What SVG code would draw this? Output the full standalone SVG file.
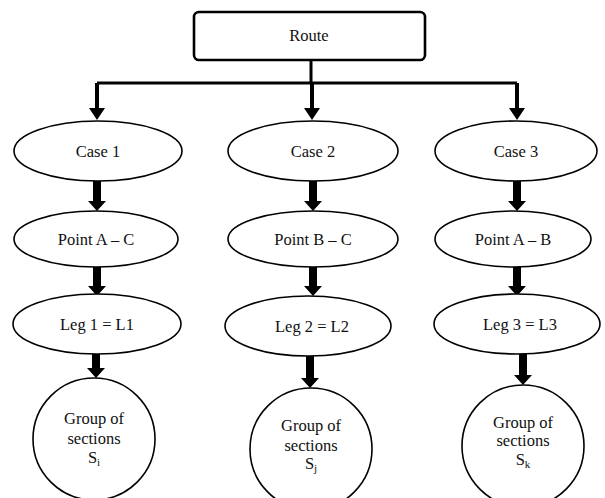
<svg xmlns="http://www.w3.org/2000/svg" width="605" height="498" viewBox="0 0 605 498" font-family="'Liberation Serif', 'Times New Roman', 'DejaVu Serif', serif">
  <style>
    .shape { fill: #ffffff; stroke: #000000; stroke-width: 1.6; }
    .root { fill: #ffffff; stroke: #000000; stroke-width: 2.6; }
    .bus { fill: none; stroke: #000000; stroke-width: 3; }
    .arrow { fill: #000000; stroke: none; }
    .label { font-family: 'Liberation Serif', 'Times New Roman', 'DejaVu Serif', serif; font-size: 16.5px; fill: #111111; text-anchor: middle; }
    .sub { font-size: 11px; }
  </style>
  <rect width="605" height="498" fill="#ffffff"/>

  <!-- connectors -->
  <g id="connectors">
    <path class="bus" d="M311 60 V83 M97 83 H517"/>
    <!-- bus drops to the three cases -->
    <path class="arrow" d="M95 83 H99 V108 H105 L97 120 L89 108 H95 Z"/>
    <path class="arrow" d="M310 83 H314 V108 H320 L312 120 L304 108 H310 Z"/>
    <path class="arrow" d="M515 83 H519 V108 H525 L517 120 L509 108 H515 Z"/>
    <!-- case to point -->
    <path class="arrow" d="M93 181 H101 V201 H106 L97 211 L88 201 H93 Z"/>
    <path class="arrow" d="M309 181 H317 V201 H322 L313 211 L304 201 H309 Z"/>
    <path class="arrow" d="M513 181 H521 V201 H526 L517 211 L508 201 H513 Z"/>
    <!-- point to leg -->
    <path class="arrow" d="M93 267 H101 V286 H106 L97 296 L88 286 H93 Z"/>
    <path class="arrow" d="M309 267 H317 V286 H322 L313 296 L304 286 H309 Z"/>
    <path class="arrow" d="M513 267 H521 V286 H526 L517 296 L508 286 H513 Z"/>
    <!-- leg to group of sections -->
    <path class="arrow" d="M92 354 H100 V368 H105 L96 378 L87 368 H92 Z"/>
    <path class="arrow" d="M306 356 H314 V378 H319 L310 388 L301 378 H306 Z"/>
    <path class="arrow" d="M519 354 H527 V375 H532 L523 385 L514 375 H519 Z"/>
  </g>

  <g id="route">
    <rect class="root" x="194" y="12" width="231" height="48" rx="5"/>
    <text class="label" x="309" y="41">Route</text>
  </g>

  <g id="case1">
    <ellipse class="shape" cx="98" cy="151" rx="84" ry="30"/>
    <text class="label" x="98" y="157">Case 1</text>
  </g>
  <g id="case2">
    <ellipse class="shape" cx="313" cy="151" rx="85" ry="30"/>
    <text class="label" x="313" y="157">Case 2</text>
  </g>
  <g id="case3">
    <ellipse class="shape" cx="516" cy="151" rx="81" ry="30"/>
    <text class="label" x="516" y="157">Case 3</text>
  </g>

  <g id="point-ac">
    <ellipse class="shape" cx="96" cy="239" rx="82" ry="28"/>
    <text class="label" x="96" y="245">Point A – C</text>
  </g>
  <g id="point-bc">
    <ellipse class="shape" cx="313" cy="239" rx="85" ry="28"/>
    <text class="label" x="313" y="245">Point B – C</text>
  </g>
  <g id="point-ab">
    <ellipse class="shape" cx="513" cy="239" rx="78" ry="28"/>
    <text class="label" x="513" y="245">Point A – B</text>
  </g>

  <g id="leg1">
    <ellipse class="shape" cx="97" cy="324" rx="84" ry="30"/>
    <text class="label" x="97" y="330">Leg 1 = L1</text>
  </g>
  <g id="leg2">
    <ellipse class="shape" cx="308" cy="326" rx="83" ry="30"/>
    <text class="label" x="312" y="332">Leg 2 = L2</text>
  </g>
  <g id="leg3">
    <ellipse class="shape" cx="517" cy="324" rx="83" ry="30"/>
    <text class="label" x="520" y="330">Leg 3 = L3</text>
  </g>

  <g id="sections-i">
    <circle class="shape" cx="94" cy="439" r="61"/>
    <text class="label" x="94" y="424">Group of</text>
    <text class="label" x="94" y="444">sections</text>
    <text class="label" x="94" y="463">S<tspan class="sub" dy="3">i</tspan></text>
  </g>
  <g id="sections-j">
    <circle class="shape" cx="311" cy="449" r="61"/>
    <text class="label" x="311" y="431">Group of</text>
    <text class="label" x="311" y="451">sections</text>
    <text class="label" x="311" y="469">S<tspan class="sub" dy="3">j</tspan></text>
  </g>
  <g id="sections-k">
    <circle class="shape" cx="523" cy="446" r="61"/>
    <text class="label" x="523" y="428">Group of</text>
    <text class="label" x="523" y="446">sections</text>
    <text class="label" x="523" y="465">S<tspan class="sub" dy="3">k</tspan></text>
  </g>
</svg>
